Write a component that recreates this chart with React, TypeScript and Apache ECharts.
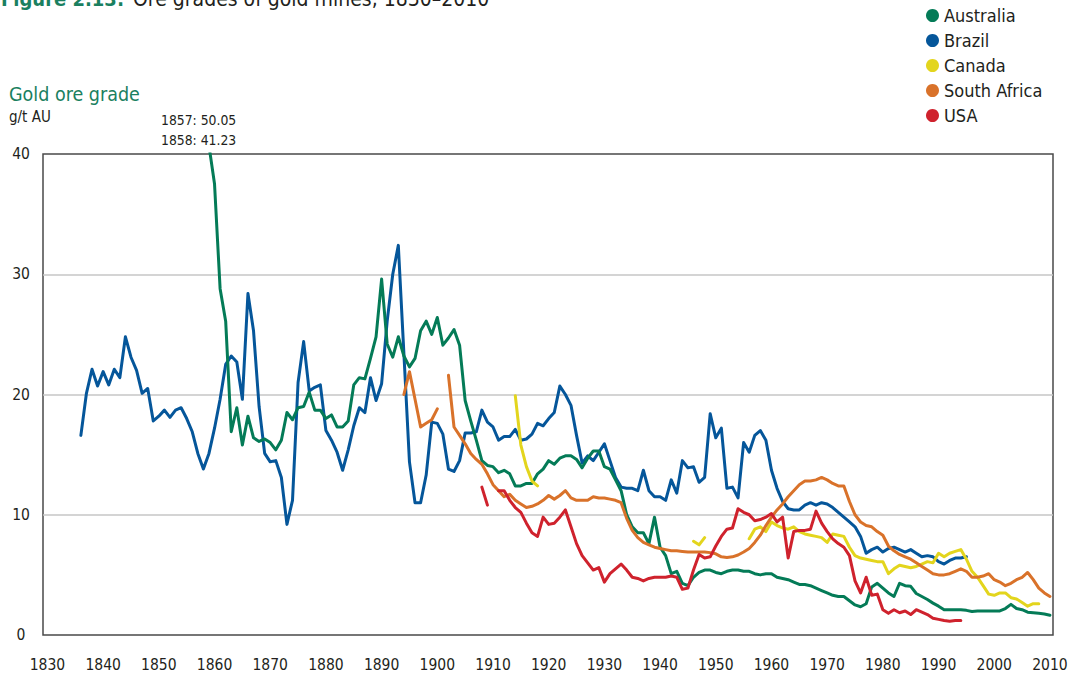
import React, { useEffect, useRef } from "react";
import * as echarts from "echarts";

// ---- axis ticks ----
const xTickYears = [1830, 1840, 1850, 1860, 1870, 1880, 1890, 1900, 1910, 1920, 1930, 1940, 1950, 1960, 1970, 1980, 1990, 2000, 2010];

// ---- series (g/t Au), annual values ----
const australiaStart = 1857;
const australiaValues = [
  50.05, 41.23, 40.7,
  37.5, 28.8, 26.1, 16.9, 18.9, 15.8, 18.2, 16.4, 16.1, 16.3,
  16.0, 15.4, 16.2, 18.5, 17.9, 18.9, 19.0, 20.2, 18.7, 18.7,
  18.0, 18.3, 17.3, 17.3, 17.8, 20.8, 21.4, 21.3, 23.0, 24.8,
  29.6, 24.2, 23.1, 24.8, 23.2, 22.3, 23.0, 25.3, 26.1, 25.0,
  26.4, 24.1, 24.7, 25.4, 24.1, 19.5, 17.8, 16.2, 14.5, 14.1,
  14.0, 13.5, 13.7, 13.4, 12.4, 12.4, 12.6, 12.6, 13.4, 13.8,
  14.5, 14.2, 14.7, 14.9, 14.9, 14.6, 13.9, 14.7, 15.3, 15.3,
  14.0, 13.8, 12.9, 12.0, 10.0, 9.0, 8.5, 8.5, 7.6, 9.8,
  7.3, 6.6, 5.1, 5.3, 4.3, 4.1, 4.8, 5.2, 5.4, 5.4,
  5.2, 5.1, 5.3, 5.4, 5.4, 5.3, 5.3, 5.1, 5.0, 5.1,
  5.1, 4.8, 4.7, 4.6, 4.4, 4.2, 4.2, 4.1, 3.9, 3.7,
  3.5, 3.3, 3.2, 3.2, 2.85, 2.5, 2.35, 2.6, 4.0, 4.3,
  3.9, 3.5, 3.2, 4.3, 4.1, 4.05, 3.45, 3.2, 2.95, 2.65,
  2.4, 2.1, 2.1, 2.1, 2.1, 2.05, 1.95, 2.0, 2.0, 2.0,
  2.0, 2.0, 2.2, 2.55, 2.2, 2.1, 1.9, 1.85, 1.8, 1.75, 1.65,
];

const brazilStart = 1836;
const brazilValues = [
  16.6, 20.1, 22.1, 20.7,
  21.9, 20.8, 22.1, 21.4, 24.8, 23.1, 22.0, 20.1, 20.5, 17.8,
  18.2, 18.7, 18.1, 18.7, 18.9, 18.0, 16.9, 15.1, 13.8, 15.1,
  17.2, 19.6, 22.5, 23.2, 22.7, 19.6, 28.4, 25.3, 19.0, 15.1,
  14.4, 14.5, 13.1, 9.2, 11.2, 21.0, 24.4, 20.3, 20.6, 20.8,
  17.0, 16.2, 15.2, 13.7, 15.4, 17.4, 18.9, 18.5, 21.4, 19.5,
  20.9, 26.1, 30.0, 32.4, 23.4, 14.4, 11.0, 11.0, 13.3, 17.7,
  17.6, 16.7, 13.8, 13.6, 14.5, 16.8, 16.8, 16.9, 18.7, 17.7,
  17.3, 16.2, 16.5, 16.5, 17.1, 16.2, 16.3, 16.7, 17.6, 17.4,
  18.0, 18.5, 20.7, 20.0, 19.1, 16.6, 14.3, 14.9, 14.5, 15.2,
  15.9, 14.5, 13.1, 12.3, 12.2, 12.2, 12.0, 13.7, 12.0, 11.5,
  11.5, 11.2, 12.9, 11.8, 14.5, 13.9, 14.0, 12.7, 13.1, 18.4,
  16.4, 17.2, 12.2, 12.3, 11.4, 16.0, 15.2, 16.6, 17.0, 16.2,
  13.7, 12.2, 11.1, 10.5, 10.4, 10.4, 10.8, 11.0, 10.8, 11.0,
  10.9, 10.6, 10.2, 9.8, 9.4, 9.0, 8.2, 6.8, 7.1, 7.3,
  6.9, 7.2, 7.3, 7.1, 6.9, 7.1, 6.8, 6.5, 6.6, 6.5,
  6.1, 5.9, 6.2, 6.4, 6.4, 6.5,
];

const canadaStartA = 1914;
const canadaValuesA = [19.9, 15.8, 14.0, 12.8, 12.4];
const canadaStartB = 1946;
const canadaValuesB = [7.8, 7.5, 8.1];
const canadaStartC = 1956;
const canadaValuesC = [
  8.0, 8.8, 9.0, 8.6,
  9.4, 9.1, 8.9, 8.8, 9.0, 8.6, 8.4, 8.3, 8.2, 8.1,
  7.7, 8.4, 8.3, 8.2, 7.3, 6.6, 6.4, 6.3, 6.2, 6.1,
  6.1, 5.1, 5.5, 5.8, 5.7, 5.6, 5.7, 5.9, 6.1, 6.0,
  6.8, 6.5, 6.8, 6.95, 7.1, 6.3, 5.3, 4.8, 4.1, 3.4,
  3.3, 3.5, 3.5, 3.1, 3.0, 2.7, 2.4, 2.6, 2.6,
];

const southAfricaStartA = 1894;
const southAfricaValuesA = [20.0, 21.9, 19.6, 17.3, 17.6, 17.9, 18.8];
const southAfricaStartB = 1902;
const southAfricaValuesB = [
  21.6, 17.3, 16.6, 15.9, 15.1, 14.6, 14.2, 13.4,
  12.5, 12.0, 11.5, 11.7, 11.2, 10.9, 10.6, 10.7, 10.9, 11.2,
  11.6, 11.3, 11.6, 12.0, 11.4, 11.2, 11.2, 11.2, 11.5, 11.4,
  11.4, 11.3, 11.2, 11.0, 9.7, 8.7, 8.1, 7.7, 7.5, 7.3,
  7.2, 7.1, 7.0, 7.0, 6.95, 6.9, 6.9, 6.9, 6.9, 6.85,
  6.75, 6.5, 6.45, 6.5, 6.65, 6.9, 7.2, 7.7, 8.3, 9.1,
  9.8, 10.4, 10.9, 11.5, 12.0, 12.5, 12.8, 12.8, 12.9, 13.1,
  12.9, 12.6, 12.4, 12.4, 11.1, 10.0, 9.4, 9.1, 9.0, 8.6,
  8.3, 7.4, 7.0, 6.7, 6.5, 6.3, 6.0, 5.7, 5.4, 5.1,
  5.0, 5.0, 5.1, 5.3, 5.5, 5.3, 4.8, 4.8, 4.9, 5.1,
  4.6, 4.4, 4.1, 4.3, 4.6, 4.8, 5.2, 4.6, 3.9, 3.5, 3.2,
];

const usaStartA = 1908;
const usaValuesA = [12.3, 10.8];
const usaStartB = 1911;
const usaValuesB = [
  12.0, 12.0, 11.2, 10.6, 10.2, 9.3, 8.5, 8.2, 9.8,
  9.2, 9.3, 9.8, 10.4, 9.0, 7.6, 6.6, 6.0, 5.4, 5.6,
  4.4, 5.1, 5.5, 5.9, 5.4, 4.8, 4.7, 4.5, 4.7, 4.8,
  4.8, 4.8, 4.9, 4.8, 3.8, 3.9, 5.4, 6.7, 6.4, 6.5,
  7.4, 8.2, 8.8, 8.9, 10.5, 10.2, 10.0, 9.5, 9.6, 9.8,
  10.1, 9.4, 9.8, 6.4, 8.6, 8.7, 8.7, 8.8, 10.3, 9.3,
  8.6, 8.0, 7.6, 7.3, 6.6, 4.5, 3.5, 4.8, 3.3, 3.4,
  2.1, 1.8, 2.1, 1.85, 2.0, 1.7, 2.1, 1.9, 1.7, 1.4,
  1.3, 1.2, 1.15, 1.2, 1.2,
];

const seriesNames = ["Australia", "Brazil", "Canada", "South Africa", "USA"];
const seriesColors = ["#047b57", "#05569a", "#e3d51d", "#d9722a", "#cf222d"];

function toData(segments: [number, number[]][]) {
  const out: any[] = [];
  segments.forEach(([start, vals], si) => {
    if (si > 0) out.push([start - 0.5, null]);
    vals.forEach((v, i) => out.push([start + i, v]));
  });
  return out;
}

const FONT = "'DejaVu Sans Condensed', 'Liberation Sans Narrow', 'Roboto', sans-serif";
const DARK = "#231f20";
const GREEN = "#1a8060";

function label(text: string, x: number, y: number, size: number, fill: string, weight = "normal") {
  return {
    type: "text",
    x,
    y,
    silent: true,
    style: {
      text,
      fill,
      fontSize: size,
      fontWeight: weight,
      fontFamily: FONT,
      textVerticalAlign: "middle",
      verticalAlign: "middle",
    },
  };
}

export default function App() {
  const ref = useRef<HTMLDivElement>(null);

  useEffect(() => {
    if (!ref.current) return;
    const chart = echarts.init(ref.current, null, { renderer: "svg" });

    const dataMap: Record<string, any[]> = {
      Australia: toData([[australiaStart, australiaValues]]),
      Brazil: toData([[brazilStart, brazilValues]]),
      Canada: toData([
        [canadaStartA, canadaValuesA],
        [canadaStartB, canadaValuesB],
        [canadaStartC, canadaValuesC],
      ]),
      "South Africa": toData([
        [southAfricaStartA, southAfricaValuesA],
        [southAfricaStartB, southAfricaValuesB],
      ]),
      USA: toData([
        [usaStartA, usaValuesA],
        [usaStartB, usaValuesB],
      ]),
    };

    const drawOrder = ["Brazil", "Australia", "Canada", "South Africa", "USA"];

    const option: any = {
      animation: false,
      backgroundColor: "#ffffff",
      textStyle: { fontFamily: FONT },
      grid: {
        left: 43,
        right: 26,
        top: 154,
        bottom: 46,
        show: true,
        borderColor: "#4a4a4a",
        borderWidth: 1.5,
        backgroundColor: "transparent",
        containLabel: false,
        outerBoundsMode: "none",
      },
      legend: {
        orient: "vertical",
        left: 926,
        top: 6,
        padding: 0,
        itemGap: 6,
        icon: "circle",
        itemWidth: 13,
        itemHeight: 13,
        data: seriesNames,
        textStyle: { fontSize: 18, lineHeight: 19, color: DARK, fontFamily: FONT },
      },
      xAxis: {
        type: "value",
        min: 1829.2,
        max: 2010.55,
        axisLine: { show: false },
        axisTick: { show: false },
        splitLine: { show: false },
        axisLabel: {
          customValues: xTickYears,
          formatter: (v: number) => String(Math.round(v)),
          color: DARK,
          fontSize: 15.5,
          fontFamily: FONT,
          margin: 22,
          verticalAlign: "top",
          lineHeight: 16,
        },
      },
      yAxis: {
        type: "value",
        min: 0,
        max: 40,
        interval: 10,
        axisLine: { show: false },
        axisTick: { show: false },
        splitLine: {
          show: true,
          showMinLine: false,
          showMaxLine: false,
          lineStyle: { color: "#c6c6c6", width: 1.5 },
        },
        axisLabel: {
          color: DARK,
          fontSize: 15.5,
          fontFamily: FONT,
          align: "center",
          margin: 22,
        },
      },
      series: drawOrder.map((name) => ({
        name,
        type: "line",
        data: dataMap[name],
        showSymbol: false,
        symbol: "none",
        connectNulls: false,
        clip: true,
        color: seriesColors[seriesNames.indexOf(name)],
        lineStyle: {
          width: 3,
          color: seriesColors[seriesNames.indexOf(name)],
          cap: "round",
          join: "round",
        },
        emphasis: { disabled: true },
      })),
      graphic: [
        label("Figure 2.13:", 1, -1, 20, GREEN, "bold"),
        label("Ore grades of gold mines, 1830–2010", 133, -1, 21, DARK),
        label("Gold ore grade", 9, 94, 19.5, GREEN),
        label("g/t AU", 9, 117, 15, DARK),
        label("1857: 50.05", 161, 119.5, 13.8, DARK),
        label("1858: 41.23", 161, 140, 13.8, DARK),
      ],
    };

    chart.setOption(option);
    return () => chart.dispose();
  }, []);

  return (
    <div
      ref={ref}
      style={{ position: "fixed", left: 0, top: 0, width: 1079, height: 681, background: "#fff" }}
    />
  );
}
